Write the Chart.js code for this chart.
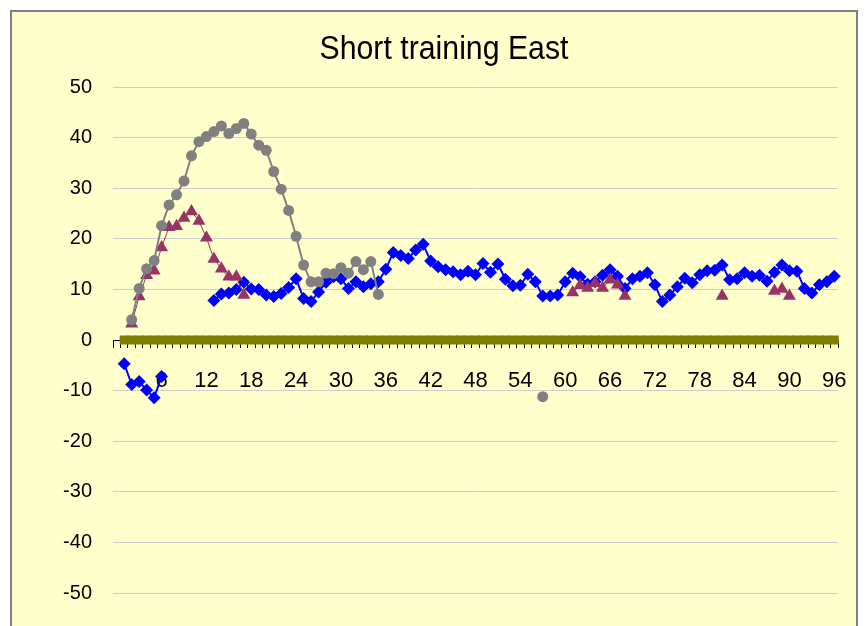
<!DOCTYPE html>
<html>
<head>
<meta charset="utf-8">
<title>Short training East</title>
<script src="https://cdn.jsdelivr.net/npm/chart.js@4.4.0/dist/chart.umd.min.js"></script>
<style>
  html, body { margin: 0; padding: 0; background: #fff; }
  body { width: 868px; height: 626px; position: relative; overflow: hidden; }
  #frame { position: absolute; left: 10px; top: 10px; width: 844px; height: 660px; background: #ffffcc; border: 2px solid #808080; }
  #chart { position: absolute; left: 0; top: 0; }
</style>
</head>
<body>
<div id="frame"></div>
<canvas id="chart" width="868" height="626"></canvas>
<script>
// categories 0..96 (0 is an empty slot, as in the original sheet)
const categoryCount = 97;
const categories = Array.from({ length: categoryCount }, (_, i) => i === 0 ? "" : String(i));
const tickLabels = [6, 12, 18, 24, 30, 36, 42, 48, 54, 60, 66, 72, 78, 84, 90, 96];
const yTicks = [-50, -40, -30, -20, -10, 0, 10, 20, 30, 40, 50];
const chartTitle = "Short training East";

// blue diamonds, categories 1-6 and 13-96
const blueStart = [-4.7, -8.8, -8.2, -9.9, -11.4, -7.2];
const blueMain = [7.8, 9.1, 9.3, 10.0, 11.4, 10.1, 10.0, 8.9, 8.6, 9.2, 10.4, 12.1,
  8.2, 7.6, 9.5, 11.4, 12.5, 12.1, 10.2, 11.5, 10.5, 11.1, 11.5, 14.0,
  17.3, 16.7, 16.1, 17.8, 18.9, 15.6, 14.5, 13.9, 13.5, 12.9, 13.6, 12.9,
  15.1, 13.4, 15.0, 12.0, 10.7, 10.8, 13.0, 11.5, 8.7, 8.7, 8.9, 11.5,
  13.2, 12.5, 11.0, 11.5, 12.8, 13.9, 12.6, 10.2, 12.1, 12.6, 13.3, 10.9,
  7.6, 8.9, 10.5, 12.2, 11.3, 12.9, 13.7, 13.8, 14.8, 11.9, 12.1, 13.3,
  12.6, 12.8, 11.6, 13.4, 14.8, 13.7, 13.6, 10.2, 9.3, 10.9, 11.5, 12.6];

// maroon triangles
const maroonA = [3.2, 8.6, 12.8, 13.7, 18.3, 22.3, 22.5, 24.1, 25.4, 23.5, 20.2, 16.0, 14.1, 12.5, 12.5, 8.9]; // 2-17
const maroonB = [9.4, 10.8, 10.3, 11.2, 10.3, 11.9, 10.9, 8.7]; // 61-68
const maroonC = [8.7]; // 81
const maroonD = [9.7, 10.1, 8.7]; // 88-90

// grey circles
const greyA = [4.0, 10.2, 14.1, 15.7, 22.6, 26.7, 28.7, 31.4, 36.4, 39.2, 40.2, 41.2,
  42.3, 40.8, 41.8, 42.8, 40.7, 38.5, 37.5, 33.3, 29.8, 25.6, 20.5, 14.8,
  11.5, 11.5, 13.2, 13.1, 14.3, 13.2, 15.5, 13.9, 15.5, 9.0]; // 2-35
const greyB = [-11.2]; // 57

// olive squares: zero line, categories 1-96
const oliveValues = Array(96).fill(0);

function place(parts) {
  const out = Array(categoryCount).fill(null);
  parts.forEach(([start, values]) => values.forEach((v, i) => { out[start + i] = v; }));
  return out;
}

const blueData = place([[1, blueStart], [13, blueMain]]);
const maroonData = place([[2, maroonA], [61, maroonB], [81, maroonC], [88, maroonD]]);
const greyData = place([[2, greyA], [57, greyB]]);
const oliveData = place([[1, oliveValues]]);

const font = "'Liberation Sans', Arial, sans-serif";

// narrow title like the original (Excel squeezes it a bit)
const narrowTitle = {
  id: "narrowTitle",
  afterDraw(chart) {
    const c = chart.ctx;
    c.save();
    c.font = "34px " + font;
    c.fillStyle = "#000";
    c.textAlign = "center";
    c.textBaseline = "alphabetic";
    c.translate(444, 59);
    c.scale(0.89, 1);
    c.fillText(chartTitle, 0, 0);
    c.restore();
  }
};

const ctx = document.getElementById("chart").getContext("2d");
new Chart(ctx, {
  type: "line",
  data: {
    labels: categories,
    datasets: [
      {
        label: "olive", data: oliveData, order: 1,
        borderColor: "#808000", backgroundColor: "#808000", borderWidth: 2,
        pointStyle: "rect", pointRadius: 6.4, pointBorderWidth: 0, pointHoverRadius: 6.4
      },
      {
        label: "grey", data: greyData, order: 2,
        borderColor: "#808080", backgroundColor: "#808080", borderWidth: 2,
        pointStyle: "circle", pointRadius: 5.5, pointBorderWidth: 0, pointHoverRadius: 5.5
      },
      {
        label: "maroon", data: maroonData, order: 3,
        borderColor: "#993366", backgroundColor: "#993366", borderWidth: 1,
        pointStyle: "triangle", pointRadius: 7.5, pointBorderWidth: 0, pointHoverRadius: 7.5
      },
      {
        label: "blue", data: blueData, order: 4,
        borderColor: "#0000ff", backgroundColor: "#0000ff", borderWidth: 2,
        pointStyle: "rectRot", pointRadius: 6.5, pointBorderWidth: 0, pointHoverRadius: 6.5
      }
    ]
  },
  options: {
    responsive: false,
    animation: false,
    spanGaps: false,
    layout: { padding: { top: 87, left: 0, right: 30, bottom: 25 } },
    plugins: {
      legend: { display: false },
      tooltip: { enabled: false },
      title: { display: false }
    },
    scales: {
      y: {
        min: yTicks[0], max: yTicks[yTicks.length - 1],
        afterBuildTicks: s => { s.ticks = yTicks.map(v => ({ value: v })); },
        afterFit: s => { s.width = 113; },
        border: { display: false },
        grid: { color: "#cccccc", lineWidth: 1, drawTicks: false },
        ticks: { color: "#000", padding: 21, font: { family: font, size: 20 } }
      },
      x: {
        type: "category",
        position: { y: 0 },
        offset: true,
        border: { display: true, color: "#000", width: 1 },
        grid: { display: true, drawOnChartArea: false, drawTicks: true, tickLength: 7, offset: true, color: "#000" },
        ticks: {
          autoSkip: false, maxRotation: 0, minRotation: 0, padding: 21, color: "#000",
          font: { family: font, size: 22 },
          callback: (v, i) => tickLabels.includes(i) ? String(i) : ""
        }
      }
    }
  },
  plugins: [narrowTitle]
});
</script>
</body>
</html>
